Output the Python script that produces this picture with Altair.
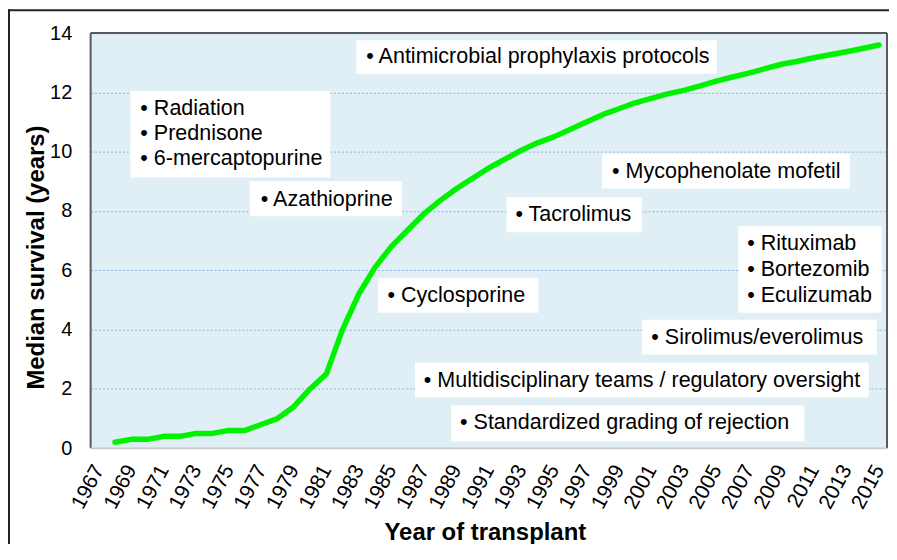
import altair as alt
import pandas as pd

# ---- data ----
years = list(range(1968, 2016))
survival = [0.2, 0.3, 0.3, 0.4, 0.4, 0.5, 0.5, 0.6, 0.6, 0.8,
            1.0, 1.4, 2.0, 2.5, 4.0, 5.2, 6.1, 6.8, 7.35, 7.9,
            8.35, 8.75, 9.1, 9.45, 9.75, 10.05, 10.3, 10.5, 10.75, 11.0,
            11.25, 11.45, 11.65, 11.8, 11.95, 12.07, 12.22, 12.38, 12.52, 12.65,
            12.8, 12.95, 13.05, 13.17, 13.27, 13.37, 13.48, 13.6]
tick_years = list(range(1967, 2016, 2))
y_ticks = list(range(0, 15, 2))

# annotation boxes (data coordinates: year, survival)
box_x1 = [1982.85, 1968.95, 1976.30, 1997.97, 1992.09, 2006.35, 1984.19, 2000.42, 1986.46, 1988.67]
box_x2 = [2005.02, 1981.26, 1985.66, 2013.22, 2000.42, 2015.17, 1994.05, 2014.87, 2014.38, 2010.41]
box_y1 = [13.76, 12.05, 9.00, 9.94, 8.46, 7.49, 5.74, 4.33, 2.89, 1.44]
box_y2 = [12.62, 9.13, 7.82, 8.76, 7.28, 4.57, 4.57, 3.16, 1.71, 0.23]

# annotation text lines
note_text = ["• Antimicrobial prophylaxis protocols",
             "• Radiation", "• Prednisone", "• 6-mercaptopurine",
             "• Azathioprine",
             "• Mycophenolate mofetil",
             "• Tacrolimus",
             "• Rituximab", "• Bortezomib", "• Eculizumab",
             "• Cyclosporine",
             "• Sirolimus/everolimus",
             "• Multidisciplinary teams / regulatory oversight",
             "• Standardized grading of rejection"]
note_x = [1983.46,
          1969.56, 1969.56, 1969.56,
          1976.97,
          1998.58,
          1992.64,
          2006.90, 2006.90, 2006.90,
          1984.76,
          2001.00,
          1987.00,
          1989.23]
note_y = [13.19,
          11.45, 10.61, 9.74,
          8.36,
          9.33,
          7.85,
          6.88, 6.01, 5.14,
          5.14,
          3.73,
          2.28,
          0.84]

FONT = "Liberation Sans"
W, H = 800, 417

line_df = pd.DataFrame({"year": years, "survival": survival})
box_df = pd.DataFrame({"x1": box_x1, "x2": box_x2, "y1": box_y1, "y2": box_y2})
note_df = pd.DataFrame({"text": note_text, "x": note_x, "y": note_y})
one = pd.DataFrame({"a": [0]})

xscale = alt.Scale(domain=[1966.5, 2015.5], nice=False, zero=False)
yscale = alt.Scale(domain=[0, 14], nice=False, zero=True)

xaxis = alt.Axis(
    values=tick_years, format="d", labelAngle=-62, labelAlign="right",
    labelBaseline="middle", labelFontSize=21, labelPadding=18,
    labelFlush=False, labelOverlap=False, labelColor="black", labelFont=FONT,
    ticks=False, domain=False, grid=False,
    title="Year of transplant", titleFontSize=24, titleFontWeight="bold",
    titleFont=FONT, titleColor="black", titleX=396, titleY=85,
    titleAlign="center", titleBaseline="middle")
yaxis = alt.Axis(
    values=y_ticks, labelFontSize=20, labelPadding=19, labelFlush=False,
    labelColor="black", labelFont=FONT,
    ticks=False, domain=False, grid=True, gridColor="#8DB3E2",
    gridDash=[2, 2], gridWidth=1,
    title="Median survival (years)", titleFontSize=24, titleFontWeight="bold",
    titleFont=FONT, titleColor="black", titleX=-54, titleY=225,
    titleAngle=270, titleAlign="center", titleBaseline="middle")


def X(field):
    return alt.X(field, type="quantitative", scale=xscale, axis=xaxis)


def Y(field):
    return alt.Y(field, type="quantitative", scale=yscale, axis=yaxis)


line = alt.Chart(line_df).mark_line(
    color="#00F200", strokeWidth=5.5, strokeCap="round", strokeJoin="round"
).encode(x=X("year"), y=Y("survival"))

boxes = alt.Chart(box_df).mark_rect(color="white").encode(
    x=X("x1"), x2="x2:Q", y=Y("y1"), y2="y2:Q",
)

notes = alt.Chart(note_df).mark_text(
    align="left", baseline="middle", font=FONT, fontSize=21.6, color="black"
).encode(x=X("x"), y=Y("y"), text="text:N")

dark = "#5A5A5A"
border_left = alt.Chart(one).mark_rule(color=dark, strokeWidth=2).encode(
    x=alt.value(0), y=alt.value(0), y2=alt.value(H))
border_top = alt.Chart(one).mark_rule(color=dark, strokeWidth=2).encode(
    x=alt.value(0), x2=alt.value(W), y=alt.value(0))
border_right = alt.Chart(one).mark_rule(color=dark, strokeWidth=2).encode(
    x=alt.value(W), y=alt.value(0), y2=alt.value(H))
border_bottom = alt.Chart(one).mark_rule(color="#C8C8C8", strokeWidth=1.5).encode(
    x=alt.value(0), x2=alt.value(W), y=alt.value(H))

frame_top = alt.Chart(one).mark_rule(color="#222222", strokeWidth=2).encode(
    x=alt.value(-83), x2=alt.value(W + 10), y=alt.value(-23))
frame_left = alt.Chart(one).mark_rule(color="#222222", strokeWidth=2).encode(
    x=alt.value(-82), y=alt.value(-24), y2=alt.value(H + 120))

chart = alt.layer(
    boxes, line, notes, border_left, border_top, border_right, border_bottom,
    frame_top, frame_left
).properties(
    width=W, height=H,
    autosize=alt.AutoSizeParams(type="none"),
    padding={"left": 83, "top": 24, "right": 2, "bottom": 95},
    background="white",
).configure_view(fill="#E0EFF5", stroke=None)

chart.save("out.html", embed_options={"renderer": "svg", "actions": False})
